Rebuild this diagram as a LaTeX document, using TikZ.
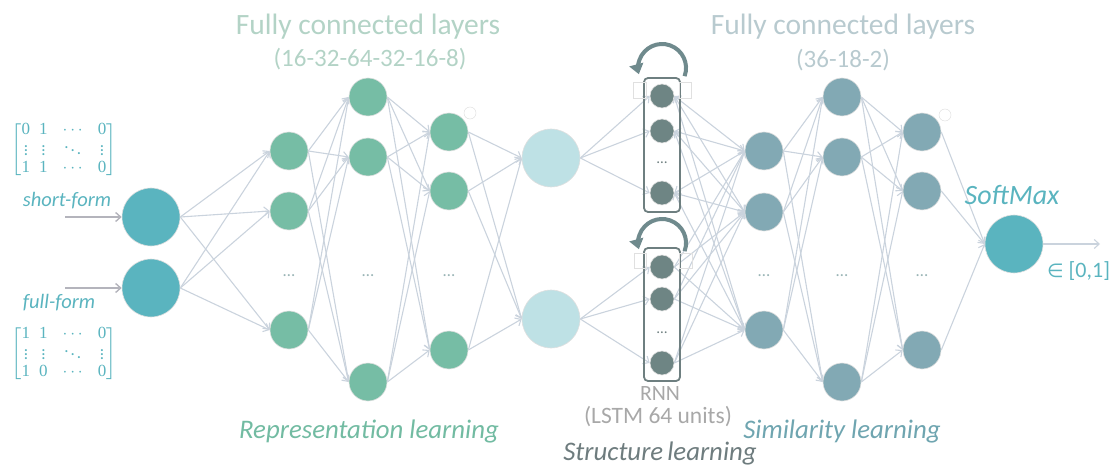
\documentclass[tikz,border=0pt]{standalone}
\usepackage{amsmath}
\usepackage{fontspec}
\setmainfont{Carlito}
\newfontfamily\matfont{Liberation Serif}
\newfontfamily\symfont{DejaVu Sans}
\usetikzlibrary{arrows.meta}
\pgfdeclarelayer{bg}
\pgfsetlayers{bg,main}

% one matrix entry set as text
\newcommand{\me}[1]{\text{\matfont #1}}
\newcommand{\wcdots}{\hspace{6pt}\cdots\hspace{6pt}}
\newcommand{\wddots}{\hspace{6pt}\ddots\hspace{6pt}}

\definecolor{inTeal}{HTML}{5AB4BF}
\definecolor{repGreen}{HTML}{76BDA5}
\definecolor{lbBlue}{HTML}{BEE1E5}
\definecolor{rnnGray}{HTML}{6E8584}
\definecolor{simBlue}{HTML}{82A9B4}
\definecolor{edgeCol}{HTML}{CAD3DD}
\definecolor{titleGreen}{HTML}{B3D3C6}
\definecolor{titleBlue}{HTML}{B8CACF}
\definecolor{dotCol}{HTML}{9AB5B6}
\definecolor{labGreen}{HTML}{72BBA2}
\definecolor{labBlue}{HTML}{6FA5B0}
\definecolor{labGray}{HTML}{A8A8A8}
\definecolor{structGray}{HTML}{6E7C7E}
\definecolor{boxGray}{HTML}{6E7F80}
\definecolor{loopCol}{HTML}{6F8A8D}
\definecolor{inArrow}{HTML}{B4B4BC}

\tikzset{
  unit/.style={circle, inner sep=0pt, minimum size=38pt, draw=black!12, line width=0.6pt},
  bigunit/.style={unit, minimum size=58pt},
  inunit/.style={bigunit, fill=inTeal},
  repunit/.style={unit, fill=repGreen},
  lbunit/.style={bigunit, fill=lbBlue},
  rnnunit/.style={unit, minimum size=24pt, fill=rnnGray},
  simunit/.style={unit, fill=simBlue},
  rnnbox/.style={draw=boxGray, line width=1.8pt, rounded corners=4pt, inner sep=0pt, minimum width=36pt},
  edge/.style={draw=edgeCol, line width=1.1pt, -{Straight Barb[length=5pt,width=9pt]}},
  biedge/.style={edge, {Straight Barb[length=5pt,width=9pt]}-{Straight Barb[length=5pt,width=9pt]}},
  inarrow/.style={draw=inArrow, line width=1.4pt, -{Straight Barb[length=5pt,width=9pt]}},
  recur/.style={draw=loopCol, line width=4pt, -{Triangle[length=10pt,width=14pt]}},
  handle/.style={draw=black!12, line width=0.5pt},
  layerdots/.style={text=dotCol, font=\fontsize{17}{17}\selectfont},
  rnndots/.style={text=boxGray, font=\fontsize{15}{15}\selectfont},
  matrixtext/.style={text=inTeal, font=\fontsize{17}{17}\selectfont},
  titletext/.style={anchor=base, font=\fontsize{29.5}{32}\selectfont},
  subtext/.style={anchor=base, font=\fontsize{25}{28}\selectfont},
  steplabel/.style={anchor=base, font=\fontsize{26.8}{30}\selectfont\itshape},
}

\begin{document}
\begin{tikzpicture}[x=1pt,y=-1pt]
\useasboundingbox (0,0) rectangle (1116,465);
\clip (0,0) rectangle (1116,465);

% ---------- input side ----------
\node[inunit] (in1) at (151,217) {};
\node[inunit] (in2) at (151,288) {};
\coordinate (src1) at (65,217);
\coordinate (src2) at (65,288);

\node[matrixtext] (mat1) at (64,150)
  {$\arraycolsep=4.5pt\begin{bmatrix}\me{0}&\me{1}&\wcdots&\me{0}\\ \vdots&\vdots&\wddots&\vdots\\ \me{1}&\me{1}&\wcdots&\me{0}\end{bmatrix}$};
\node[matrixtext] (mat2) at (64,354)
  {$\arraycolsep=4.5pt\begin{bmatrix}\me{1}&\me{1}&\wcdots&\me{0}\\ \vdots&\vdots&\wddots&\vdots\\ \me{1}&\me{0}&\wcdots&\me{0}\end{bmatrix}$};
\node[anchor=base, text=inTeal, font=\fontsize{20.5}{22}\selectfont\itshape] (sf) at (67,207) {short-form};
\node[anchor=base, text=inTeal, font=\fontsize{20.5}{22}\selectfont\itshape] (ff) at (59,308) {full-form};

% ---------- representation learning layers ----------
\node[repunit] (a1) at (289,151) {};
\node[repunit] (a2) at (289,211) {};
\node[repunit] (a3) at (289,330) {};
\node[layerdots] (ad) at (289,276) {…};

\node[repunit] (b1) at (368,97) {};
\node[repunit] (b2) at (368,157) {};
\node[repunit] (b3) at (368,382) {};
\node[layerdots] (bd) at (368,276) {…};

\node[repunit] (c1) at (449,132) {};
\node[repunit] (c2) at (449,191) {};
\node[repunit] (c3) at (449,350) {};
\node[layerdots] (cd) at (449,276) {…};
\node[handle, circle, minimum size=12pt, inner sep=0pt] (hc) at (470,113) {};

\node[lbunit] (lb1) at (551,158) {};
\node[lbunit] (lb2) at (551,319) {};

% ---------- recurrent blocks ----------
\node[rnnbox, minimum height=134pt] (box1) at (662,145) {};
\node[rnnbox, minimum height=133pt] (box2) at (662,314.5) {};
\draw[handle] (633,82) rectangle (646,98);
\draw[handle] (679,82) rectangle (691,98);
\draw[handle] (634,253) rectangle (646,268);
\draw[handle] (679,253) rectangle (692,268);

\node[rnnunit] (r1) at (662,96) {};
\node[rnnunit] (r2) at (662,131) {};
\node[rnnunit] (r3) at (662,193) {};
\node[rnndots] (rd) at (662,163) {…};

\node[rnnunit] (q1) at (662,267) {};
\node[rnnunit] (q2) at (662,299) {};
\node[rnnunit] (q3) at (662,363) {};
\node[rnndots] (qd) at (662,333) {…};

% recurrence loops above each block
\coordinate (loop1) at (662,68);
\coordinate (loop2) at (662,243);
\draw[recur] ([shift={(22.6,8.2)}]loop1) arc[start angle=20, end angle=-195, radius=24];
\draw[recur] ([shift={(22.6,8.2)}]loop2) arc[start angle=20, end angle=-195, radius=24];

% ---------- similarity learning layers ----------
\node[simunit] (s1) at (764,151) {};
\node[simunit] (s2) at (764,212) {};
\node[simunit] (s3) at (764,330) {};
\node[layerdots] (sd) at (764,276) {…};

\node[simunit] (t1) at (842,97) {};
\node[simunit] (t2) at (842,157) {};
\node[simunit] (t3) at (842,382) {};
\node[layerdots] (td) at (842,276) {…};

\node[simunit] (u1) at (922,132) {};
\node[simunit] (u2) at (922,191) {};
\node[simunit] (u3) at (922,350) {};
\node[layerdots] (ud) at (922,276) {…};
\node[handle, circle, minimum size=12pt, inner sep=0pt] (hu) at (945,115) {};

\node[inunit] (sm) at (1014,244) {};
\coordinate (out) at (1100,244);

% ---------- connections ----------
\begin{pgfonlayer}{bg}
  \draw[inarrow] (src1) -- (in1.west);
  \draw[inarrow] (src2) -- (in2.west);
  \foreach \p in {in1,in2} \foreach \q in {a1,a2,a3} \draw[edge] (\p.east) -- (\q.west);
  \foreach \p in {a1,a2,a3} \foreach \q in {b1,b2,b3} \draw[edge] (\p.east) -- (\q.west);
  \foreach \p in {b1,b2,b3} \foreach \q in {c1,c2,c3} \draw[edge] (\p.east) -- (\q.west);
  \foreach \p in {c1,c2,c3} \foreach \q in {lb1,lb2} \draw[edge] (\p.east) -- (\q.west);
  \foreach \q in {r1,r2,r3} \draw[edge] (lb1.east) -- (\q.west);
  \foreach \q in {q1,q2,q3} \draw[edge] (lb2.east) -- (\q.west);
  \foreach \p in {r1,r2,r3} \foreach \q in {s1,s2,s3} \draw[biedge] (\p.east) -- (\q.west);
  \foreach \p in {q1,q2,q3} \foreach \q in {s1,s2,s3} \draw[edge] (\p.east) -- (\q.west);
  \foreach \p in {s1,s2,s3} \foreach \q in {t1,t2,t3} \draw[edge] (\p.east) -- (\q.west);
  \foreach \p in {t1,t2,t3} \foreach \q in {u1,u2,u3} \draw[edge] (\p.east) -- (\q.west);
  \foreach \p in {u1,u2,u3} \draw[edge] (\p.east) -- (sm.west);
  \draw[edge] (sm.east) -- (out);
\end{pgfonlayer}

% ---------- labels ----------
\node[titletext, text=titleGreen] (tl1) at (368,35) {Fully connected layers};
\node[subtext, text=titleGreen] (tl2) at (370,67) {(16-32-64-32-16-8)};
\node[titletext, text=titleBlue] (tr1) at (843,35) {Fully connected layers};
\node[subtext, text=titleBlue] (tr2) at (843,68) {(36-18-2)};

\node[anchor=base, text=inTeal, font=\fontsize{28}{30}\selectfont\itshape] (smlab) at (1012,205) {SoftMax};
\node[anchor=base west, text=inTeal, font=\fontsize{22}{24}\selectfont, inner sep=0pt] (range) at (1047,277) {{\symfont\fontsize{19}{22}\selectfont ∈} [0,1]};

\node[anchor=base, text=labGray, font=\fontsize{21.8}{24}\selectfont] (rnnlab) at (660,400) {RNN};
\node[anchor=base, text=labGray, font=\fontsize{23.5}{26}\selectfont] (lstm) at (658,423) {(LSTM 64 units)};

\node[steplabel, text=labGreen] (rep) at (369,438) {Representation learning};
\node[steplabel, text=labBlue] (sim) at (842,438) {Similarity learning};
\node[steplabel, text=structGray] (struct) at (660,460) {Structure\hspace{-2pt} learning};
\end{tikzpicture}
\end{document}
